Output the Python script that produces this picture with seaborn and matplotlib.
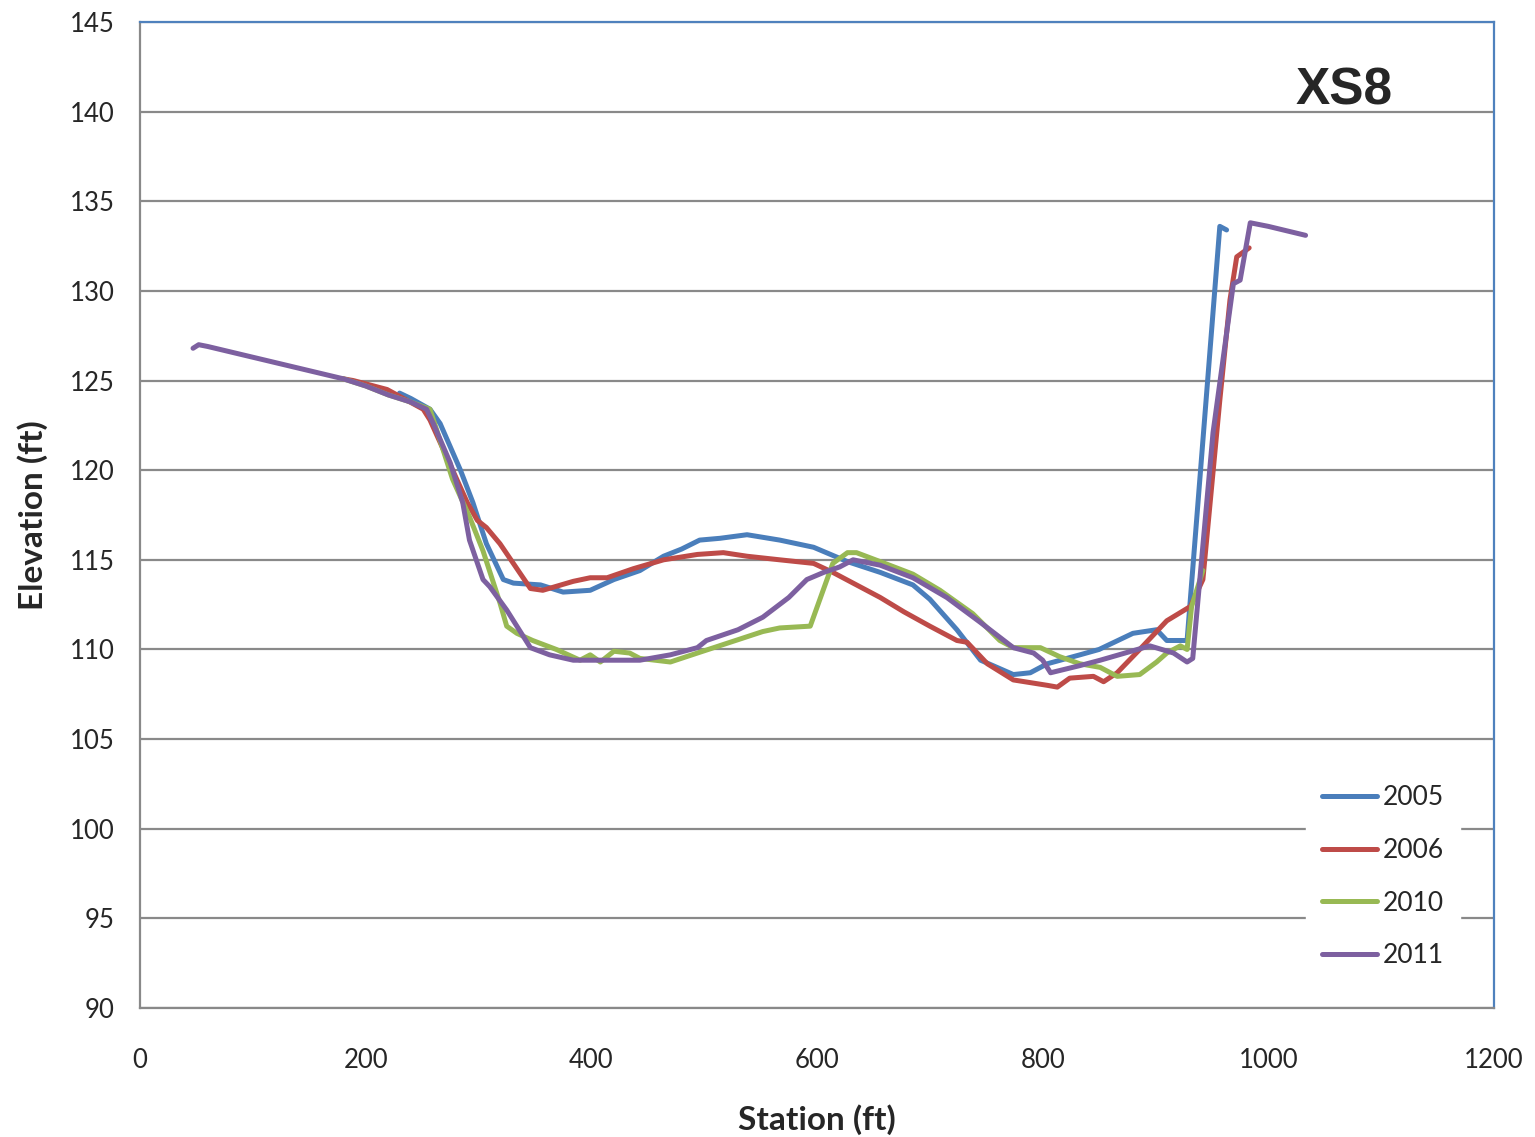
import matplotlib as mpl
import matplotlib.pyplot as plt
import seaborn as sns
import pandas as pd
import numpy as np

# survey data
x_2005 = [230, 240, 257, 266, 284, 295, 307, 322, 331, 355, 375, 399, 420, 443, 464, 480, 496, 514, 538, 567,
          597, 627, 656, 685, 700, 724, 745, 774, 789, 804, 833, 850, 880, 901, 910, 928, 957, 963]
y_2005 = [124.3, 124.0, 123.4, 122.6, 120.0, 118.2, 115.9, 113.9, 113.7, 113.6, 113.2, 113.3, 113.9, 114.4, 115.2,
          115.6, 116.1, 116.2, 116.4, 116.1, 115.7, 114.9, 114.3, 113.6, 112.8, 111.1, 109.4, 108.6, 108.7, 109.2,
          109.7, 110.0, 110.9, 111.1, 110.5, 110.5, 133.6, 133.4]

x_2006 = [180, 189, 219, 251, 257, 290, 299, 307, 319, 346, 357, 384, 399, 414, 437, 464, 494, 517, 538, 567,
          597, 614, 635, 656, 677, 700, 724, 733, 751, 774, 804, 813, 824, 845, 854, 866, 886, 910, 931, 942,
          957, 966, 972, 983]
y_2006 = [125.1, 125.0, 124.5, 123.4, 122.8, 118.2, 117.2, 116.8, 115.9, 113.4, 113.3, 113.8, 114.0, 114.0, 114.5,
          115.0, 115.3, 115.4, 115.2, 115.0, 114.8, 114.3, 113.6, 112.9, 112.1, 111.3, 110.5, 110.4, 109.2, 108.3,
          108.0, 107.9, 108.4, 108.5, 108.2, 108.7, 110.0, 111.6, 112.4, 113.9, 123.9, 129.5, 131.9, 132.4]

x_2010 = [180, 200, 220, 240, 257, 277, 292, 304, 319, 325, 334, 348, 369, 390, 399, 408, 420, 434, 443, 470,
          494, 523, 552, 567, 594, 614, 627, 635, 656, 685, 709, 738, 762, 774, 798, 815, 833, 851, 866, 886,
          901, 910, 922, 928, 932, 942]
y_2010 = [125.1, 124.7, 124.2, 123.8, 123.4, 119.5, 117.4, 115.5, 112.6, 111.3, 110.9, 110.5, 110.0, 109.4, 109.7,
          109.3, 109.9, 109.8, 109.5, 109.3, 109.8, 110.4, 111.0, 111.2, 111.3, 114.8, 115.4, 115.4, 114.9, 114.2,
          113.3, 112.0, 110.5, 110.1, 110.1, 109.6, 109.2, 109.0, 108.5, 108.6, 109.3, 109.8, 110.2, 110.0, 112.4,
          114.4]

x_2011 = [47, 52, 60, 100, 140, 180, 200, 220, 240, 254, 260, 275, 286, 292, 304, 310, 325, 346, 363, 384,
          410, 443, 470, 494, 502, 530, 552, 575, 591, 606, 620, 632, 656, 685, 715, 745, 774, 792, 800, 807,
          833, 851, 873, 895, 916, 928, 933, 951, 969, 975, 984, 1000, 1033]
y_2011 = [126.8, 127.0, 126.9, 126.3, 125.7, 125.1, 124.7, 124.2, 123.8, 123.4, 122.6, 120.4, 118.2, 116.1, 113.9,
          113.5, 112.2, 110.1, 109.7, 109.4, 109.4, 109.4, 109.7, 110.1, 110.5, 111.1, 111.8, 112.9, 113.9, 114.3,
          114.6, 115.0, 114.7, 114.0, 112.9, 111.5, 110.1, 109.8, 109.4, 108.7, 109.1, 109.4, 109.8, 110.2, 109.8,
          109.3, 109.5, 122.1, 130.4, 130.6, 133.8, 133.6, 133.1]

years = ["2005", "2006", "2010", "2011"]
colors = {"2005": "#4A7EBB", "2006": "#BE4B48", "2010": "#98B954", "2011": "#7D60A0"}

frames = []
for yr, xs, ys in zip(years, [x_2005, x_2006, x_2010, x_2011], [y_2005, y_2006, y_2010, y_2011]):
    frames.append(pd.DataFrame({"Station": xs, "Elevation": ys, "Year": yr}))
df = pd.concat(frames, ignore_index=True)

sns.set_style("white")
plt.rcParams['font.family'] = ['Lato', 'DejaVu Sans']

fig = plt.figure(figsize=(15.35, 11.37), dpi=100)
ax = fig.add_axes([140 / 1535, 1 - 1008 / 1137, 1354 / 1535, 986 / 1137])

sns.lineplot(data=df, x="Station", y="Elevation", hue="Year", hue_order=years, palette=colors,
             sort=False, estimator=None, ax=ax)
# seaborn ignores the width kwarg here, so thicken the lines afterwards
for line in ax.lines:
    line.set_linewidth(3.6)
    line.set_solid_joinstyle("round")
    line.set_solid_capstyle("round")

ax.set_xlim(0, 1200)
ax.set_ylim(90, 145)
ax.set_xticks(np.arange(0, 1201, 200))
ax.set_yticks(np.arange(90, 146, 5))
ax.tick_params(axis="both", labelsize=18.5, direction="out", length=9, width=1.5, color="#898989")
ax.tick_params(axis="x", pad=20)
ax.tick_params(axis="y", pad=9)
ax.yaxis.grid(True, color="#898989", lw=1.6)
ax.set_axisbelow(True)

for s in ["left", "bottom"]:
    ax.spines[s].set_color("#898989")
    ax.spines[s].set_linewidth(1.6)
for s in ["top", "right"]:
    ax.spines[s].set_color("#4F81BD")
    ax.spines[s].set_linewidth(1.6)

ax.set_xlabel("Station (ft)", fontsize=24, fontweight="bold", labelpad=22)
ax.set_ylabel("Elevation (ft)", fontsize=24, fontweight="bold", labelpad=16)

ax.text(0.889, 0.916, "XS8", transform=ax.transAxes, ha="center", va="baseline",
        fontsize=37, fontweight="bold", family=["Liberation Sans", "DejaVu Sans"])

handles, labels = ax.get_legend_handles_labels()
leg = ax.legend(handles, labels, loc="center", bbox_to_anchor=(0.918, 0.133), frameon=True,
                fontsize=19, handlelength=2.1, handletextpad=0.2, labelspacing=1.05,
                borderpad=0.6, fancybox=False)
for h in leg.get_lines():
    h.set_linewidth(3.6)
    h.set_solid_capstyle("round")
leg.get_frame().set_facecolor("white")
leg.get_frame().set_edgecolor("white")
leg.get_frame().set_alpha(1)

fig.savefig("out.png", dpi=100)
